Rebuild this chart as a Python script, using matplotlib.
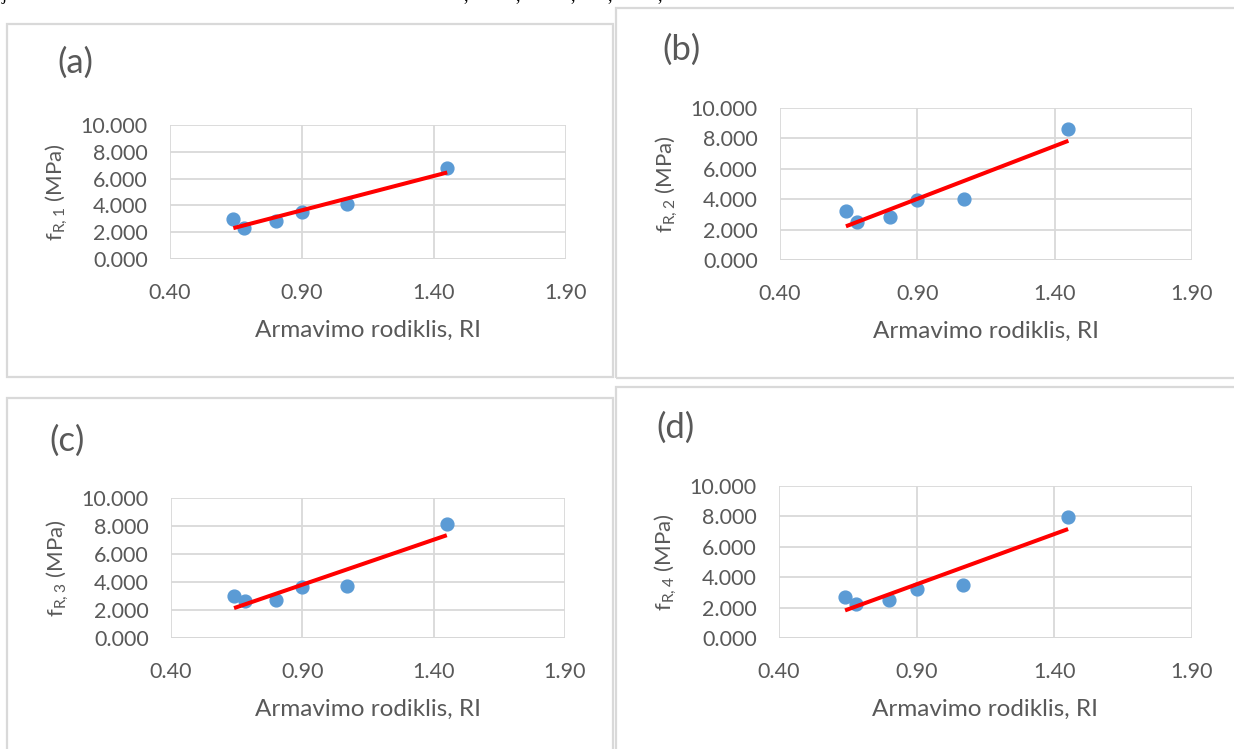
import numpy as np
import matplotlib.pyplot as plt
from matplotlib.patches import Rectangle

plt.rcParams['font.family'] = ['Lato', 'DejaVu Sans']

W, H = 1234, 749

# reinforcement index of the six specimens
ri = [0.64, 0.68, 0.80, 0.90, 1.07, 1.45]

# residual flexural strengths, MPa
fr1 = [3.00, 2.35, 2.80, 3.52, 4.07, 6.80]
fr2 = [3.23, 2.47, 2.86, 3.95, 4.00, 8.60]
fr3 = [2.98, 2.62, 2.69, 3.64, 3.69, 8.12]
fr4 = [2.68, 2.26, 2.52, 3.22, 3.51, 7.94]

tags = ["(a)", "(b)", "(c)", "(d)"]
ylabels = [r"f$_{\mathregular{R,%d}}$ (MPa)" % k for k in (1, 2, 3, 4)]
xlabel = "Armavimo rodiklis, RI"
xticks = [0.40, 0.90, 1.40, 1.90]
yticks = [0, 2, 4, 6, 8, 10]

TXT = '#595959'
GRID = '#d9d9d9'

# pixel boxes: plot area (l, t, r, b), frame (l, t, r, b), tag centre (x, y)
layout = [
    ((170, 125, 566, 259), (7, 24, 613, 377), (75, 63)),
    ((780, 108, 1192, 260), (616, 8, 1240, 378), (682, 50)),
    ((171, 498, 565, 638), (7, 398, 613, 760), (67, 441)),
    ((779, 486, 1192, 638), (616, 387, 1240, 760), (676, 428)),
]


def fx(px):
    return px / W


def fy(py):
    return 1 - py / H


fig = plt.figure(figsize=(W / 100, H / 100), dpi=100)

# caption text above, cut by the page edge
for x, s in [(2, "j"), (463, ","), (515, ","), (570, ","), (607, ","), (657, ",")]:
    fig.text(fx(x), fy(0), s, fontsize=13, color='black', va='baseline',
             family='Liberation Serif')

for k, data in enumerate([fr1, fr2, fr3, fr4]):
    (l, t, r, b), (fl, ft, fr_, fb), (tx, ty) = layout[k]

    fig.add_artist(Rectangle((fx(fl), fy(fb)), fx(fr_ - fl), (fb - ft) / H,
                             transform=fig.transFigure, fill=False,
                             edgecolor=GRID, lw=1.6))
    fig.text(fx(tx), fy(ty), tags[k], fontsize=25, color=TXT,
             ha='center', va='center')

    ax = fig.add_axes([fx(l), fy(b), fx(r - l), (b - t) / H])
    ax.set_xlim(0.4, 1.9)
    ax.set_ylim(0, 10)
    ax.set_xticks(xticks)
    ax.set_yticks(yticks)
    ax.set_xticklabels([f"{v:.2f}" for v in xticks])
    ax.set_yticklabels([f"{v:.3f}" for v in yticks])
    ax.tick_params(length=0, labelsize=15.5, labelcolor=TXT)
    ax.tick_params(axis='x', pad=17)
    ax.tick_params(axis='y', pad=16)
    for s in ax.spines.values():
        s.set_visible(False)
    ax.grid(True, color=GRID, lw=1.3, zorder=0)
    ax.axhline(0, color='#c8c8c8', lw=1.4, zorder=1)

    ax.scatter(ri, data, s=85, color='#5b9bd5', zorder=3, clip_on=False)
    slope, icpt = np.polyfit(ri, data, 1)
    xs = np.array([min(ri), max(ri)])
    ax.plot(xs, slope * xs + icpt, color='#ff0000', lw=2.9, zorder=4,
            solid_capstyle='butt')

    hpx = b - t
    wpx = r - l
    ax.set_xlabel(xlabel, fontsize=17.5, color=TXT)
    ax.xaxis.label.set_va('center')
    ax.xaxis.set_label_coords(0.5, -71 / hpx)
    ax.set_ylabel(ylabels[k], fontsize=16, color=TXT)
    ax.yaxis.label.set_va('center')
    ax.yaxis.set_label_coords(-113 / wpx, 0.5)

fig.savefig('out.png', dpi=100)
